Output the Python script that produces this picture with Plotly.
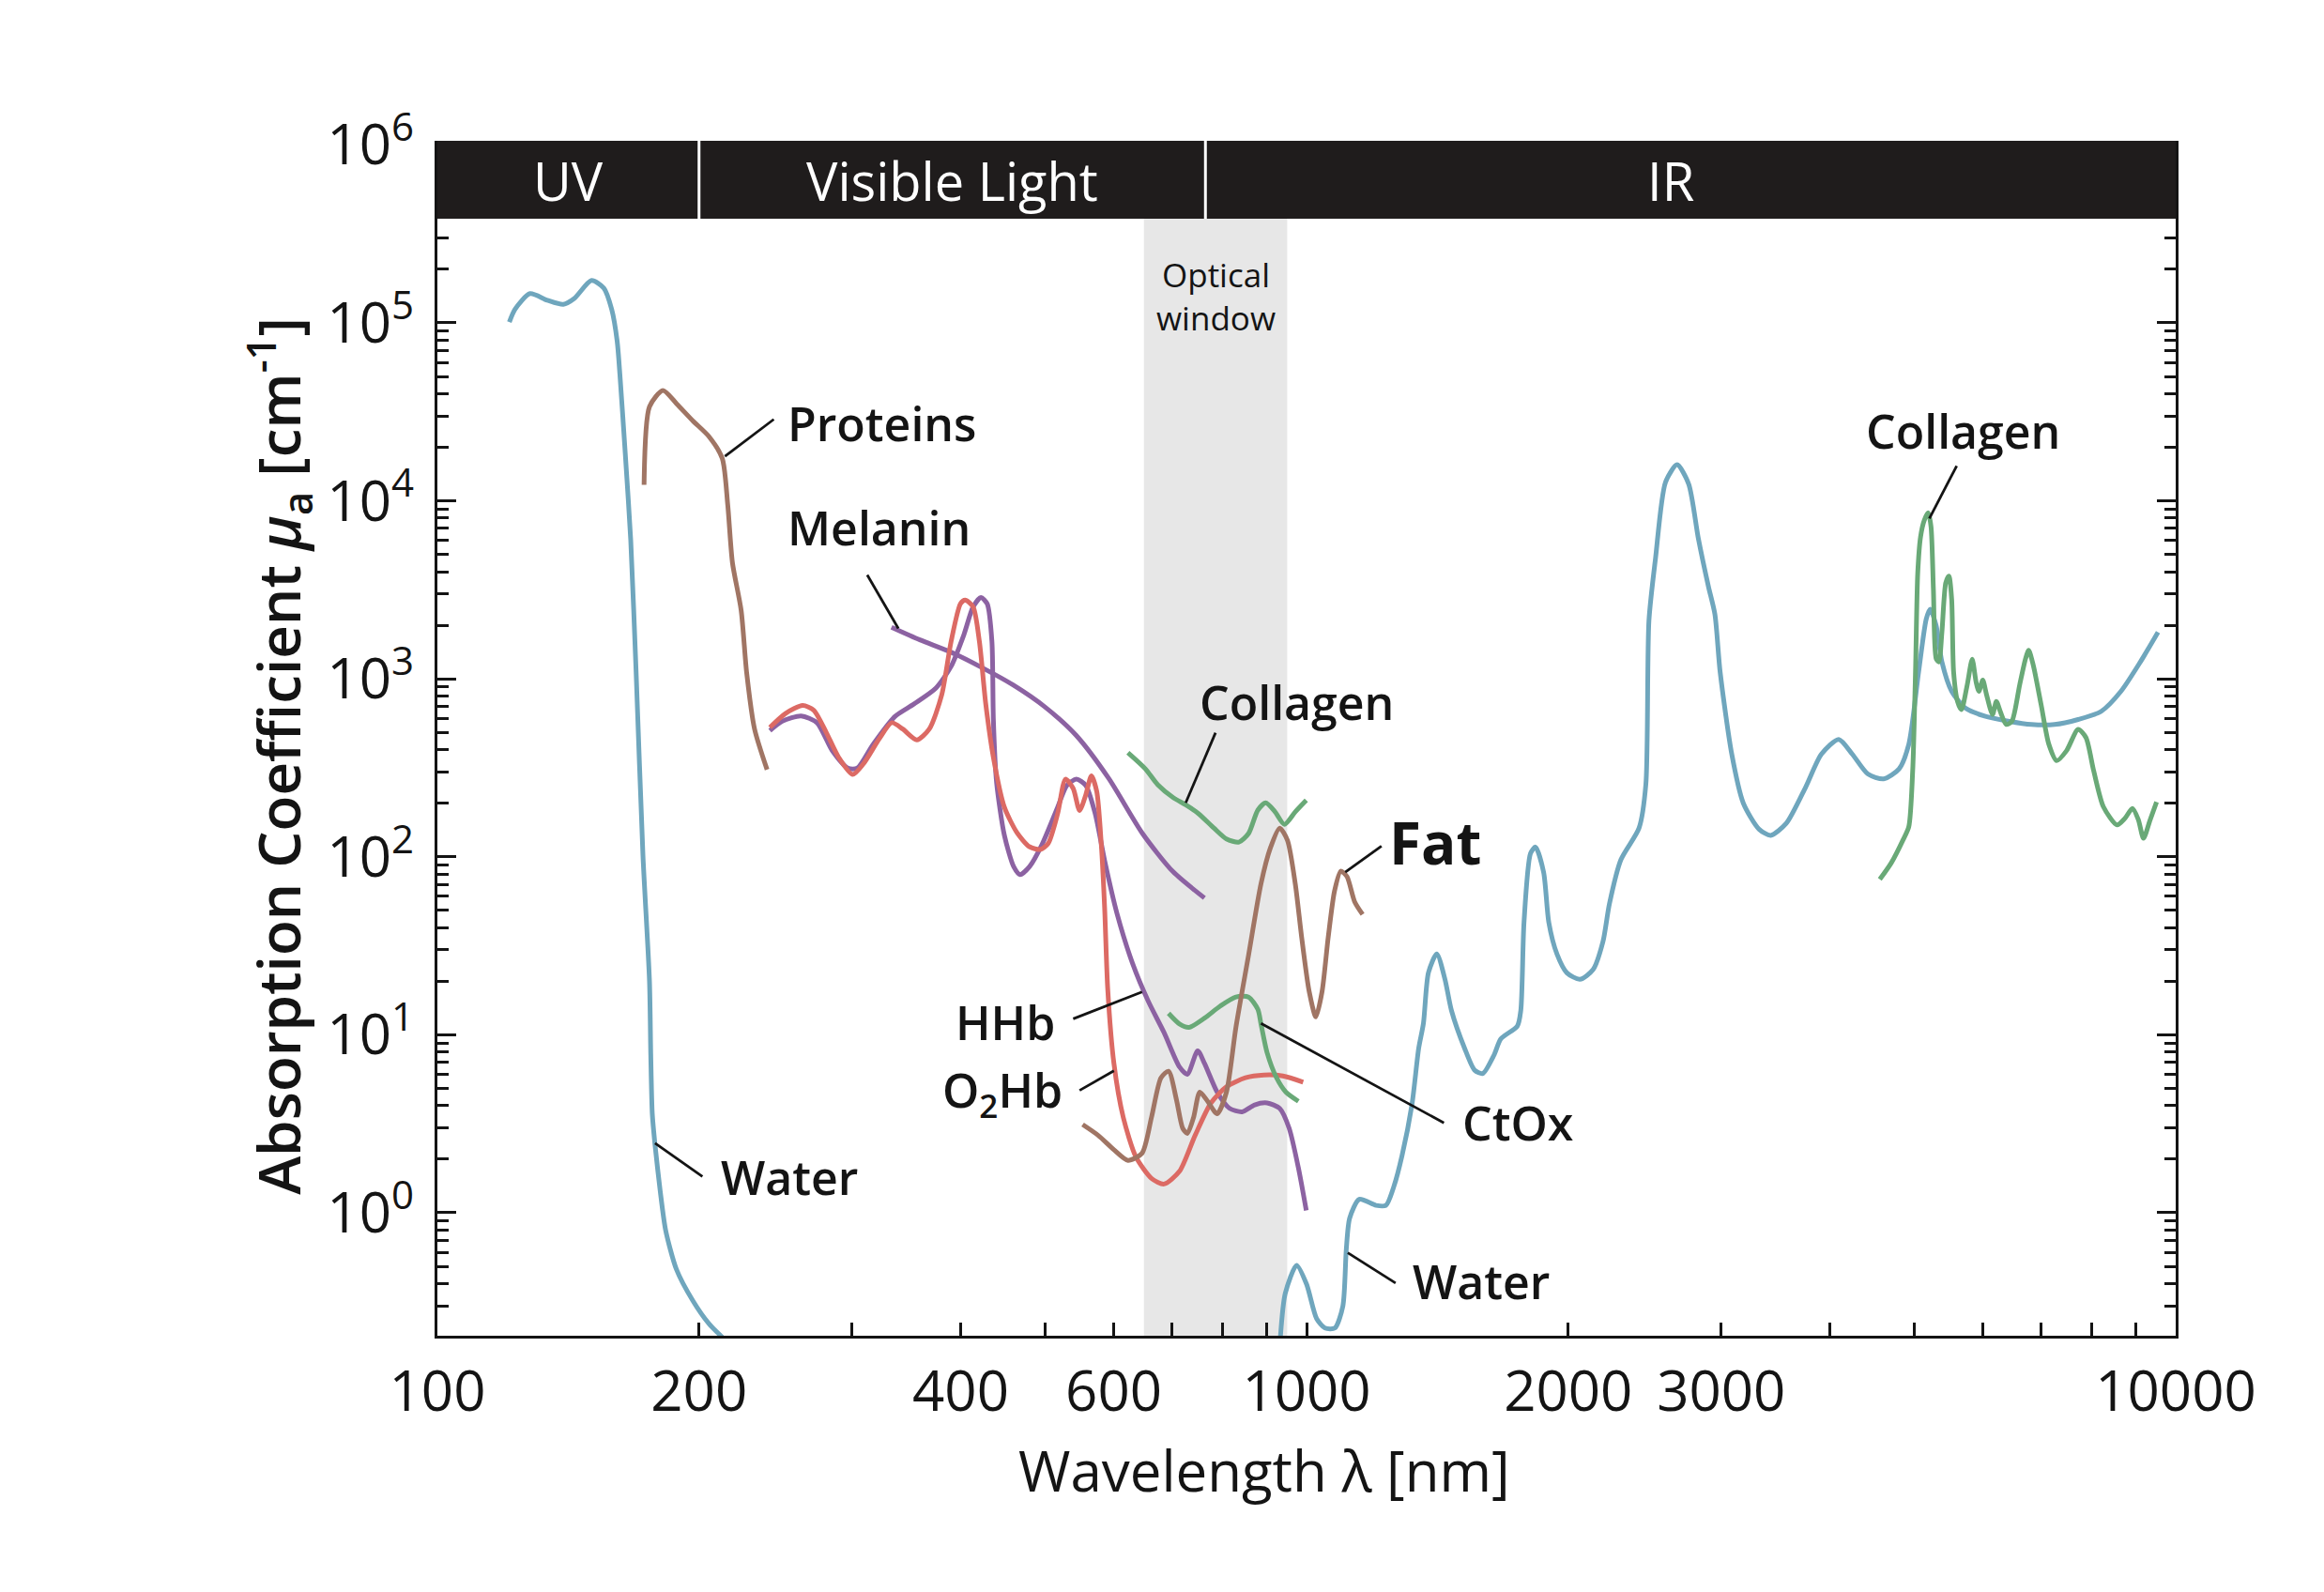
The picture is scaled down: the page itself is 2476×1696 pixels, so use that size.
import numpy as np
import plotly.graph_objects as go

# ---------------- data (wavelength nm, absorption coefficient cm^-1) ----------------
water_uv_wl = [121, 122.8, 127.8, 133.8, 139.6, 143.7, 150.4, 155.4, 158.7, 161.0, 162.2, 164.5,
               166.9, 169.3, 172.4, 175.4, 176.0, 176.7, 178.0, 180.5, 183.1, 188.4, 196.7, 205.3, 212.7]
water_uv_mu = [1.01e5, 1.19e5, 1.46e5, 1.34e5, 1.27e5, 1.37e5, 1.73e5, 1.57e5, 1.19e5, 7.9e4, 5.07e4, 1.84e4,
               6000, 1082, 101, 20, 7.65, 3.6, 2.4, 1.31, 0.794, 0.48, 0.321, 0.238, 0.2]

water_ir_wl = [933, 945, 974, 1000, 1027, 1050, 1078, 1101, 1111, 1121, 1150, 1202, 1234, 1260, 1288, 1322,
               1346, 1363, 1381, 1412, 1443, 1468, 1520, 1561, 1595, 1644, 1673, 1748, 1764, 1779, 1810,
               1834, 1874, 1900, 1941, 1993, 2063, 2136, 2193, 2231, 2300, 2413, 2457, 2477, 2521, 2588,
               2669, 2752, 2824, 2900, 2950, 2991, 3085, 3181, 3316, 3420, 3564, 3753, 3911, 4096, 4246,
               4424, 4612, 4806, 4931, 5061, 5164, 5218, 5301, 5383, 5524, 5727, 6029, 6415, 6823, 7256,
               7722, 8211, 8649, 9107, 9542]
water_ir_mu = [0.199, 0.351, 0.507, 0.397, 0.254, 0.225, 0.225, 0.299, 0.621, 0.933, 1.19, 1.10, 1.10, 1.40,
               2.10, 4.04, 8.4, 11.6, 22.3, 28.5, 20.5, 13.7, 8.4, 6.32, 6.06, 7.73, 9.48, 11.2, 13.7, 42.7,
               104.5, 113.5, 81.9, 42.7, 28.5, 22.3, 20.5, 23.2, 33.4, 54.5, 96.4, 145, 256, 2122, 4786,
               12706, 15970, 12445, 6118, 3300, 2304, 1096, 377, 200, 143, 132, 154, 247, 377, 457, 377,
               292, 274, 312, 429, 1096, 2167, 2465, 1992, 1245, 850, 685, 617, 579, 554, 554, 591, 657,
               850, 1245, 1827]

protein_wl = [172.9, 175.4, 181.8, 188.4, 196.7, 205.3, 212.7, 215.8, 218.5, 223.6, 226.9, 231.7, 239.5]
protein_mu = [12300, 33800, 41700, 35200, 28200, 23000, 17300, 9500, 4500, 2430, 1080, 522, 309]

melanin_wl = [333, 359, 390, 424, 460, 500, 543, 592, 647, 702, 763]
melanin_mu = [1950, 1656, 1410, 1150, 921, 695, 482, 276, 136, 82.5, 58.7]

hhb_wl = [241.3, 249.4, 262.1, 273.3, 284.7, 296.7, 304.2, 317.1, 336, 353.2, 374.4, 390, 403.3, 413.4,
          422.1, 429.1, 434.5, 436.2, 439.9, 449.1, 460.4, 468.2, 479.9, 496.1, 517.2, 530, 543.5, 557.2,
          571.2, 585.7, 605.3, 631, 657.6, 685.5, 714.2, 729.2, 749.5, 763.2, 789.2, 815.5, 843, 871.6,
          900.7, 931.3, 954.8, 978.6, 999.3]
hhb_mu = [512, 578, 619, 567, 394, 315, 315, 427, 614, 721, 885, 1175, 1762, 2535, 2863, 2641, 1625, 590,
          262, 132, 87.9, 79.4, 87.9, 117, 190, 252, 273, 252, 175, 95.3, 47.9, 25, 15.4, 10.3, 6.6, 6.0,
          8.13, 6.9, 4.76, 3.86, 3.69, 4.04, 4.14, 3.86, 2.99, 1.79, 1.03]

o2hb_wl = [241.3, 251.5, 263.2, 271, 280.1, 289.5, 300.5, 309.3, 322.5, 333.3, 343.1, 356.1, 368.1, 380.5,
           390, 399.8, 404.8, 413.4, 420.3, 427.5, 436.2, 449.1, 464.2, 479.9, 494, 504.4, 517.2, 528,
           538.9, 548.1, 557.2, 565.5, 573.6, 580.6, 585.7, 590.5, 600.3, 615.4, 636.3, 663.1, 685.5,
           714.2, 744.3, 776.3, 808.8, 850.5, 893.4, 939.1, 991.1]
o2hb_mu = [533, 639, 708, 666, 501, 362, 290, 334, 462, 567, 522, 454, 522, 816, 1625, 2641, 2770, 2535,
           1625, 721, 362, 190, 137, 114, 110, 119, 175, 273, 242, 182, 223, 285, 233, 117, 51.9, 18.2,
           6.9, 3.43, 2.06, 1.56, 1.45, 1.71, 2.72, 4.14, 5.1, 5.73, 5.94, 5.87, 5.42]

collagen_vis_wl = [623, 652.2, 674.2, 702.5, 726.1, 750.9, 782.4, 808.8, 836, 857.5, 879, 897.5, 919.9,
                   943, 970.6, 999.3]
collagen_vis_mu = [385, 313, 254, 215, 196, 175, 145, 126, 121, 135, 183, 201, 179, 152, 179, 208]

collagen_ir_wl = [4566, 4708, 4857, 4931, 4982, 5019, 5049, 5087, 5138, 5192, 5230, 5263, 5301, 5340, 5383,
                  5438, 5484, 5524, 5552, 5610, 5669, 5756, 5833, 5892, 5937, 5998, 6059, 6155, 6218, 6282,
                  6383, 6480, 6614, 6719, 6775, 6857, 7001, 7146, 7296, 7487, 7722, 7884, 8046, 8257, 8560,
                  8738, 8918, 9060, 9182, 9344, 9506]
collagen_ir_mu = [74.7, 92.6, 124.7, 147.9, 305, 1096, 3936, 6285, 7795, 8561, 7150, 3181, 1301, 1245, 1827,
                  3461, 3773, 2797, 1096, 747, 672, 924, 1288, 964, 850, 984, 813, 630, 747, 657, 554, 579,
                  924, 1301, 1445, 1193, 715, 429, 347, 394, 520, 468, 305, 191, 151, 164, 187, 161, 127,
                  161, 203]

ctox_wl = [693.8, 714.2, 732.4, 763.2, 795.7, 829.3, 857.5, 879, 886.3, 900.7, 923.6, 946.8, 978.6]
ctox_mu = [13.2, 11.5, 11.0, 12.4, 14.5, 16.3, 16.3, 13.9, 11.5, 7.94, 5.73, 4.76, 4.23]

fat_wl = [552.6, 575.9, 600.3, 623, 646.7, 663.1, 680, 693.8, 708.4, 720.2, 729.2, 741.3, 753.6, 769.5,
          789.2, 808.8, 829.3, 857.5, 886.3, 908.6, 931.3, 950.6, 970.6, 987.2, 1007, 1025, 1042, 1059,
          1077, 1095, 1113, 1136, 1160]
fat_mu = [3.13, 2.72, 2.26, 1.97, 2.16, 3.43, 5.73, 6.24, 4.33, 2.99, 2.79, 3.43, 4.76, 4.23, 3.6, 4.76,
          11.0, 27.9, 70.5, 112, 145, 124, 70.5, 35.2, 17.5, 12.6, 17.5, 35.2, 64.3, 83, 77.5, 55.9, 47.5]

# spectral bands and optical window (nm)
band_names = ["UV", "Visible Light", "IR"]
band_edges = [100, 200, 765, 10000]
optical_window = [650, 950]

x_tick_vals = [100, 200, 300, 400, 500, 600, 700, 800, 900, 1000, 2000, 3000, 4000, 5000, 6000, 7000,
               8000, 9000, 10000]
x_tick_text = ["100", "200", "", "400", "", "600", "", "", "", "1000", "2000", "3000", "", "", "", "",
               "", "", "10000"]
y_tick_vals = [1, 10, 100, 1000, 1e4, 1e5, 1e6]
y_tick_text = ["10<sup>0</sup>", "10<sup>1</sup>", "10<sup>2</sup>", "10<sup>3</sup>", "10<sup>4</sup>",
               "10<sup>5</sup>", "10<sup>6</sup>"]

# ---------------- styling ----------------
C_WATER = "#6fa6bd"
C_BROWN = "#a07564"
C_PURPLE = "#8c62a2"
C_RED = "#dc6a64"
C_GREEN = "#69a977"
INK = "#141414"
FONT = "Open Sans"

fig = go.Figure()


def curve(wl, mu, color, width=5):
    fig.add_trace(go.Scatter(x=wl, y=mu, mode="lines", hoverinfo="skip", showlegend=False,
                             line=dict(color=color, width=width, shape="spline", smoothing=0.7)))


def pointer(wl, mu):
    fig.add_trace(go.Scatter(x=wl, y=mu, mode="lines", hoverinfo="skip", showlegend=False,
                             line=dict(color=INK, width=2.8)))


curve(water_uv_wl, water_uv_mu, C_WATER)
curve(water_ir_wl, water_ir_mu, C_WATER)
curve(protein_wl, protein_mu, C_BROWN)
curve(melanin_wl, melanin_mu, C_PURPLE)
curve(collagen_vis_wl, collagen_vis_mu, C_GREEN)
curve(collagen_ir_wl, collagen_ir_mu, C_GREEN)
curve(hhb_wl, hhb_mu, C_PURPLE)
curve(o2hb_wl, o2hb_mu, C_RED)
curve(ctox_wl, ctox_mu, C_GREEN)
curve(fat_wl, fat_mu, C_BROWN)

# leader lines
pointer([214.2, 243.8], [1.78e4, 2.87e4])      # Proteins
pointer([339.1, 312.3], [1920, 3831])          # Melanin
pointer([726.1, 785.7], [201, 498])            # Collagen (visible)
pointer([1108, 1219.6], [81.9, 115])           # Fat
pointer([538.9, 646.7], [12.3, 17.4])          # HHb
pointer([548.1, 600.3], [4.87, 6.28])          # O2Hb
pointer([886.3, 1439], [11.6, 3.2])            # CtOx
pointer([178.0, 201.8], [2.46, 1.6])           # Water UV
pointer([1115.4, 1266], [0.596, 0.403])        # Water IR
pointer([5207, 5598], [7958, 15730])           # Collagen IR

YMIN, YMAX = -0.691, 6.023
band_bottom = 5.585
band_paper = (band_bottom - YMIN) / (YMAX - YMIN)

shapes = [
    dict(type="rect", xref="x", yref="paper", x0=optical_window[0], x1=optical_window[1], y0=0, y1=1,
         fillcolor="#e7e7e7", line=dict(width=0), layer="below"),
    dict(type="rect", xref="paper", yref="paper", x0=0, x1=1, y0=band_paper, y1=1,
         fillcolor="#1f1c1c", line=dict(width=0), layer="above"),
]
for e in band_edges[1:-1]:
    shapes.append(dict(type="line", xref="x", yref="paper", x0=e, x1=e, y0=band_paper, y1=1,
                       line=dict(color="white", width=3), layer="above"))

annotations = []


def label(text, wl, mu, xanchor="left", size=50, weight=600, color=INK):
    annotations.append(dict(x=np.log10(wl), y=np.log10(mu), xref="x", yref="y", text=text,
                            showarrow=False, xanchor=xanchor, yanchor="middle",
                            font=dict(family=FONT, size=size, weight=weight, color=color)))


label("Proteins", 251.6, 2.71e4)
label("Melanin", 251.6, 7079)
label("Collagen", 749.3, 736)
label("Fat", 1238.6, 121, size=62, weight=700)
label("HHb", 516.1, 11.7, xanchor="right")
label("O<sub>2</sub>Hb", 526.3, 4.73, xanchor="right")
label("CtOx", 1502, 3.22)
label("Water", 210.9, 1.58)
label("Water", 1319, 0.414)
label("Collagen", 4385, 24650)
annotations.append(dict(x=np.log10(786), y=np.log10(1.41e5), xref="x", yref="y",
                        text="Optical<br>window", showarrow=False, xanchor="center", yanchor="middle",
                        font=dict(family=FONT, size=35, color=INK)))

# band labels
band_mid = [np.log10(141.4), 2.5924, 3.4186]
for name, xm in zip(band_names, band_mid):
    annotations.append(dict(x=xm, y=(band_bottom + YMAX) / 2, xref="x", yref="y", text=name,
                            showarrow=False, xanchor="center", yanchor="middle",
                            font=dict(family=FONT, size=56, color="white")))

# axis titles
annotations.append(dict(x=0.4757, y=-0.1123, xref="paper", yref="paper", text="Wavelength λ [nm]",
                        showarrow=False, xanchor="center", yanchor="middle",
                        font=dict(family=FONT, size=60, color=INK)))
annotations.append(dict(x=-0.0913, y=0.4855, xref="paper", yref="paper",
                        text="Absorption Coefficient <i>μ</i><sub>a</sub> [cm<sup>-1</sup>]",
                        showarrow=False, textangle=-90, xanchor="center", yanchor="middle",
                        font=dict(family=FONT, size=62, weight=600, color=INK)))

minor_y = [k * 10.0 ** d for d in range(-1, 6) for k in range(2, 10)]

fig.update_layout(
    width=2476, height=1696,
    margin=dict(l=466, r=158, t=150, b=273),
    paper_bgcolor="white", plot_bgcolor="white",
    showlegend=False,
    font=dict(family=FONT, color=INK),
    shapes=shapes, annotations=annotations,
)
fig.update_xaxes(type="log", range=[2, 4], showline=True, linecolor=INK, linewidth=3,
                 ticks="inside", ticklen=14, tickwidth=3, tickcolor=INK,
                 tickmode="array", tickvals=x_tick_vals, ticktext=x_tick_text,
                 tickfont=dict(family=FONT, size=60, color=INK), ticklabelstandoff=5,
                 showgrid=False, zeroline=False)
fig.update_yaxes(type="log", range=[YMIN, YMAX], showline=True, linecolor=INK, linewidth=3,
                 mirror="allticks", ticks="inside", ticklen=20, tickwidth=3, tickcolor=INK,
                 tickmode="array", tickvals=y_tick_vals, ticktext=y_tick_text,
                 tickfont=dict(family=FONT, size=60, color=INK), ticklabelstandoff=10,
                 showgrid=False, zeroline=False,
                 minor=dict(ticks="inside", ticklen=12, tickwidth=2.5, tickcolor=INK,
                            tickmode="array", tickvals=minor_y, showgrid=False))

fig.write_html("out.html")
